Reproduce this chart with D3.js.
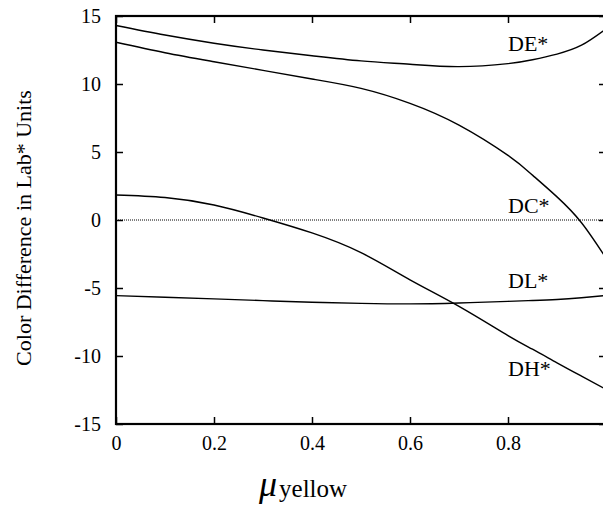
<!DOCTYPE html>
<html>
<head>
<meta charset="utf-8">
<script src="https://cdn.jsdelivr.net/npm/d3@7"></script>
<style>
  body { margin: 0; background: #fff; }
  svg text { font-family: "Liberation Serif", "Tinos", "Times New Roman", Times, serif !important; }
</style>
</head>
<body>
<div id="chart"></div>
<script>
// data
const mu = [0, 0.1, 0.2, 0.3, 0.4, 0.5, 0.6, 0.7, 0.8, 0.85, 0.9, 0.95, 1.0];
const dE = [14.3, 13.6, 13.0, 12.5, 12.08, 11.7, 11.45, 11.28, 11.5, 11.78, 12.2, 12.85, 14.05];
const dC = [13.07, 12.3, 11.64, 11.0, 10.37, 9.68, 8.58, 6.98, 4.75, 3.3, 1.7, -0.2, -2.8];
const dH = [1.84, 1.65, 1.1, 0.15, -0.95, -2.4, -4.4, -6.35, -8.5, -9.5, -10.5, -11.48, -12.45];
const dL = [-5.56, -5.68, -5.8, -5.93, -6.05, -6.13, -6.17, -6.1, -5.98, -5.92, -5.85, -5.72, -5.55];
const seriesNames = ["DE*", "DC*", "DL*", "DH*"];
const labelY = [12.4, 0.5, -5.0, -11.5]; // baselines of the curve labels
const xTicks = [0, 0.2, 0.4, 0.6, 0.8, 1];
const yTicks = [-15, -10, -5, 0, 5, 10, 15];

const W = 603, H = 506;
const margin = { top: 16, right: -3, bottom: 82, left: 116 };
const width = W - margin.left - margin.right;
const height = H - margin.top - margin.bottom;

const svg = d3.select("#chart").append("svg")
    .attr("width", W)
    .attr("height", H);

const x = d3.scaleLinear().domain([0, 1]).range([margin.left, margin.left + width]);
const y = d3.scaleLinear().domain([-15, 15]).range([margin.top + height, margin.top]);

// zero reference line
svg.append("line")
    .attr("x1", x(0)).attr("x2", x(1))
    .attr("y1", y(0)).attr("y2", y(0))
    .attr("stroke", "#000")
    .attr("stroke-width", 1)
    .attr("stroke-dasharray", "1,1");

const line = d3.line()
    .x((d, i) => x(mu[i]))
    .y(d => y(d))
    .curve(d3.curveNatural);

[dE, dC, dL, dH].forEach(s => {
    svg.append("path")
        .datum(s)
        .attr("fill", "none")
        .attr("stroke", "#000")
        .attr("stroke-width", 1.4)
        .attr("d", line);
});

// axes: inward ticks on all four sides (the "1" label falls off the page)
svg.append("g")
    .attr("transform", `translate(0,${y(-15)})`)
    .call(d3.axisBottom(x).tickValues(xTicks.slice(0, -1)).tickSize(-7).tickPadding(12)
        .tickFormat(d => d === 0 ? "0" : d3.format(".1f")(d)))
    .call(g => g.selectAll("text").attr("font-size", 20).attr("fill", "#000"));

svg.append("g")
    .attr("transform", `translate(0,${y(15)})`)
    .call(d3.axisTop(x).tickValues(xTicks).tickSize(-7).tickFormat(""));

svg.append("g")
    .attr("transform", `translate(${x(0)},0)`)
    .call(d3.axisLeft(y).tickValues(yTicks).tickSize(-7).tickPadding(15).tickFormat(d3.format("d")))
    .call(g => g.selectAll("text").attr("font-size", 20).attr("fill", "#000"));

svg.append("g")
    .attr("transform", `translate(${x(1)},0)`)
    .call(d3.axisRight(y).tickValues(yTicks).tickSize(-7).tickFormat(""));

svg.selectAll(".domain").remove();
svg.selectAll(".tick line").attr("stroke", "#000").attr("stroke-width", 1.5);
// plain hyphen for negatives, like the reference
svg.selectAll(".tick text").text(function() { return this.textContent.replace("−", "-"); });

// frame
svg.append("rect")
    .attr("x", x(0)).attr("y", y(15))
    .attr("width", x(1) - x(0)).attr("height", y(-15) - y(15))
    .attr("fill", "none")
    .attr("stroke", "#000")
    .attr("stroke-width", 2.2);

// curve labels
svg.selectAll(".lbl")
    .data(seriesNames)
    .enter().append("text")
    .attr("class", "lbl")
    .attr("x", x(0.8))
    .attr("y", (d, i) => y(labelY[i]))
    .attr("font-size", 22)
    .text(d => d);

// axis titles
svg.append("text")
    .attr("transform", "translate(31,228) rotate(-90)")
    .attr("text-anchor", "middle")
    .attr("font-size", 22)
    .text("Color Difference in Lab* Units");

const xt = svg.append("text")
    .attr("x", 259)
    .attr("y", 496);
xt.append("tspan")
    .attr("font-style", "italic")
    .attr("font-size", 36)
    .text("μ");
xt.append("tspan")
    .attr("font-size", 25)
    .attr("dx", 2)
    .attr("dy", 1)
    .text("yellow");
</script>
</body>
</html>
